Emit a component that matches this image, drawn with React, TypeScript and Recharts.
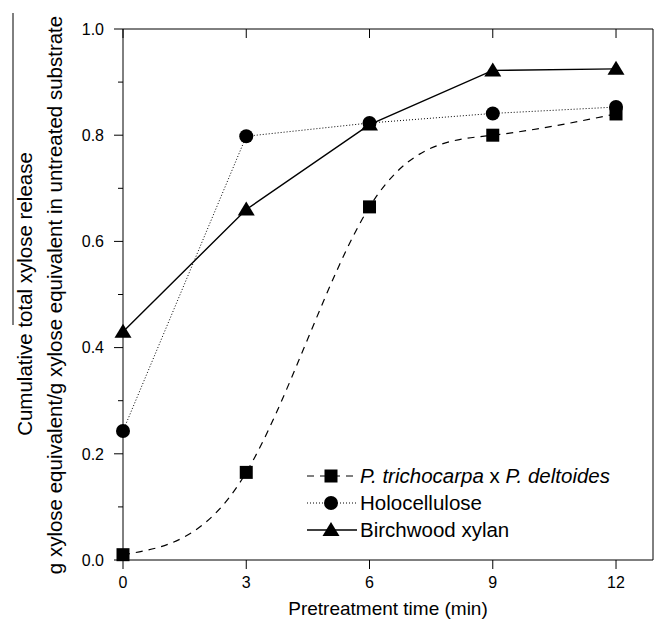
import React from 'react';
import { LineChart, Line, XAxis, YAxis } from 'recharts';

const times = [0, 3, 6, 9, 12];
const poplar = [0.01, 0.165, 0.665, 0.8, 0.84];
const holocellulose = [0.243, 0.798, 0.823, 0.841, 0.853];
const birchwood = [0.43, 0.66, 0.82, 0.922, 0.925];

const xTicks = [0, 3, 6, 9, 12];
const yTicks = [0, 0.1, 0.2, 0.3, 0.4, 0.5, 0.6, 0.7, 0.8, 0.9, 1.0];

const data = times.map((t, i) => ({
  t,
  poplar: poplar[i],
  holo: holocellulose[i],
  birch: birchwood[i],
}));

const FONT = '"Liberation Sans", Arial, sans-serif';

const SquareDot = (props: any) => {
  const { cx, cy } = props;
  if (cx == null || cy == null) return null;
  return <rect x={cx - 6.5} y={cy - 6.5} width={13} height={13} fill="#000" />;
};

const CircleDot = (props: any) => {
  const { cx, cy } = props;
  if (cx == null || cy == null) return null;
  return <circle cx={cx} cy={cy} r={7} fill="#000" />;
};

const TriangleDot = (props: any) => {
  const { cx, cy } = props;
  if (cx == null || cy == null) return null;
  return <polygon points={`${cx},${cy - 8} ${cx + 8.5},${cy + 6} ${cx - 8.5},${cy + 6}`} fill="#000" />;
};

// y ticks: major every 0.2 with a label, minor ones in between
const makeYTick = (offset: number, showLabel: boolean) => (props: any) => {
  const { x, y, payload } = props;
  const v = payload.value;
  const major = Math.abs(Math.round(v * 10) % 2) === 0;
  const axisX = x + offset;
  const len = major ? 9 : 5;
  return (
    <g>
      <line x1={axisX - len} x2={axisX} y1={y} y2={y} stroke="#000" strokeWidth={1} />
      {showLabel && major && (
        <text x={x} y={y} dy="0.36em" textAnchor="end" fontSize={16} fontFamily={FONT} fill="#000">
          {v.toFixed(1)}
        </text>
      )}
    </g>
  );
};

const YLabel = () => (
  <g fontFamily={FONT} fontSize={20.5} fill="#000">
    <text x={24} y={294} transform="rotate(-90 24 294)" textAnchor="middle" dominantBaseline="central">
      Cumulative total xylose release
    </text>
    <line x1={13} x2={13} y1={13} y2={325} stroke="#000" strokeWidth={1} />
    <text x={54} y={295} transform="rotate(-90 54 295)" textAnchor="middle" dominantBaseline="central">
      g xylose equivalent/g xylose equivalent in untreated substrate
    </text>
  </g>
);

const LegendBox = () => (
  <svg width={360} height={82} style={{ display: 'block' }}>
    <g fontFamily={FONT} fontSize={20.5} fill="#000">
      <line x1={7} x2={57} y1={14} y2={14} stroke="#000" strokeDasharray="7 6" />
      <rect x={24.5} y={7.5} width={13} height={13} fill="#000" />
      <text x={60} y={14} dy="0.36em">
        <tspan fontStyle="italic">P. trichocarpa</tspan>
        <tspan> x </tspan>
        <tspan fontStyle="italic">P. deltoides</tspan>
      </text>
      <line x1={7} x2={57} y1={41} y2={41} stroke="#000" strokeDasharray="1 2" />
      <circle cx={31} cy={41} r={7} fill="#000" />
      <text x={60} y={41} dy="0.36em">Holocellulose</text>
      <line x1={7} x2={57} y1={68} y2={68} stroke="#000" strokeWidth={1.4} />
      <polygon points="31,60 39.5,74 22.5,74" fill="#000" />
      <text x={60} y={68} dy="0.36em">Birchwood xylan</text>
    </g>
  </svg>
);

export default function App() {
  return (
    <div style={{ position: 'absolute', left: 0, top: 0, width: 657, height: 627, background: '#fff' }}>
      <LineChart width={657} height={627} data={data} margin={{ top: 29, right: 4, left: 13, bottom: 0 }}>
        <XAxis
          xAxisId="bottom"
          dataKey="t"
          type="number"
          domain={[0, 12.9]}
          ticks={xTicks}
          height={67}
          tickSize={9}
          tickMargin={8}
          axisLine={{ stroke: '#000' }}
          tickLine={{ stroke: '#000' }}
          tick={{ fill: '#000', fontSize: 16, fontFamily: FONT }}
          label={{
            content: (p: any) => {
              const vb = p.viewBox || {};
              return (
                <text x={vb.x + vb.width / 2} y={608} dy="0.36em" textAnchor="middle" fontSize={19} fontFamily={FONT} fill="#000">
                  Pretreatment time (min)
                </text>
              );
            },
          }}
        />
        <XAxis
          xAxisId="top"
          dataKey="t"
          type="number"
          orientation="top"
          domain={[0, 12.9]}
          ticks={xTicks}
          height={1}
          mirror
          tickSize={9}
          axisLine={{ stroke: '#000' }}
          tickLine={{ stroke: '#000' }}
          tickFormatter={() => ''}
        />
        <YAxis
          yAxisId="left"
          type="number"
          domain={[0, 1]}
          ticks={yTicks}
          width={110}
          tickSize={9}
          tickMargin={10}
          tickLine={false}
          axisLine={{ stroke: '#000' }}
          tick={makeYTick(19, true)}
          label={{ content: () => <YLabel /> }}
        />
        <YAxis
          yAxisId="right"
          orientation="right"
          type="number"
          domain={[0, 1]}
          ticks={yTicks}
          width={1}
          mirror
          tickSize={9}
          tickMargin={0}
          tickLine={false}
          axisLine={{ stroke: '#000' }}
          tick={makeYTick(9, false)}
        />
        <Line
          xAxisId="bottom"
          yAxisId="left"
          type="natural"
          dataKey="poplar"
          stroke="#000"
          strokeWidth={1.2}
          strokeDasharray="7 6"
          dot={<SquareDot />}
          activeDot={false}
          isAnimationActive={false}
        />
        <Line
          xAxisId="bottom"
          yAxisId="left"
          type="linear"
          dataKey="holo"
          stroke="#000"
          strokeWidth={1}
          strokeDasharray="1 2"
          dot={<CircleDot />}
          activeDot={false}
          isAnimationActive={false}
        />
        <Line
          xAxisId="bottom"
          yAxisId="left"
          type="linear"
          dataKey="birch"
          stroke="#000"
          strokeWidth={1.4}
          dot={<TriangleDot />}
          activeDot={false}
          isAnimationActive={false}
        />
      </LineChart>
      <div style={{ position: 'absolute', left: 300, top: 462 }}>
        <LegendBox />
      </div>
    </div>
  );
}
